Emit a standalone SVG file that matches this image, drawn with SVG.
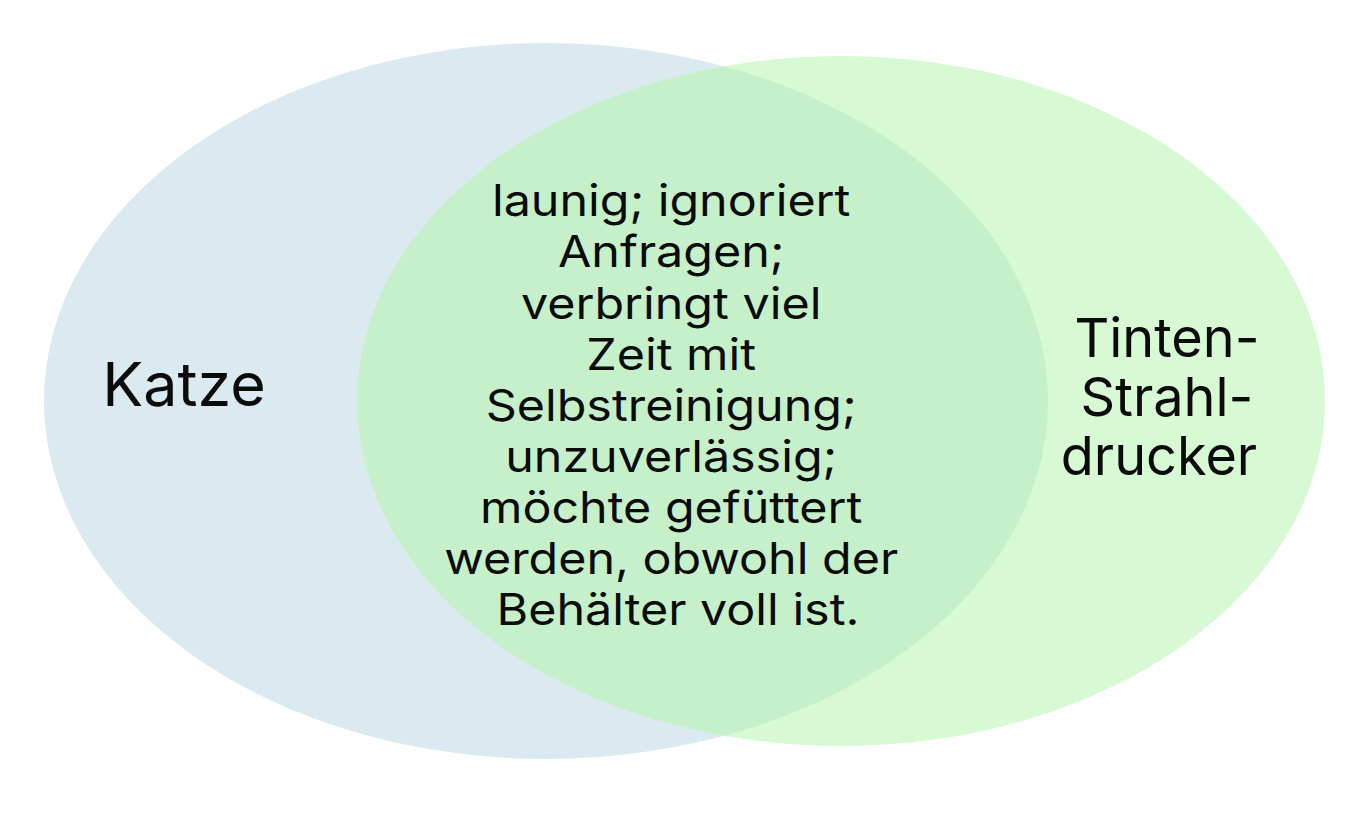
<svg xmlns="http://www.w3.org/2000/svg" width="1369" height="815" viewBox="0 0 1369 815">
<style>
.t{font-family:Inter,"Liberation Sans",sans-serif;fill:#0b0b0b;text-anchor:middle}
</style>
<defs>
<clipPath id="leftClip"><ellipse cx="546" cy="401" rx="502" ry="358"/></clipPath>
</defs>
<rect width="1369" height="815" fill="#ffffff"/>
<g id="katze">
<ellipse cx="546" cy="401" rx="502" ry="358" fill="#dbe9f1"/>
<text class="t" x="184" y="406" font-size="61">Katze</text>
</g>
<g id="drucker">
<ellipse cx="841" cy="401" rx="484" ry="345" fill="#d7f9d3"/>
<text class="t" x="1167" y="357" font-size="54">Tinten-</text>
<text class="t" x="1167" y="416" font-size="54">Strahl-</text>
<text class="t" x="1159" y="475" font-size="54">drucker</text>
</g>
<g id="overlap">
<ellipse cx="841" cy="401" rx="484" ry="345" fill="#c5f0ca" clip-path="url(#leftClip)"/>
<text class="t" font-size="44" transform="translate(678,0) scale(1.1,1) translate(-678,0)">
<tspan x="678" y="216">launig; ignoriert</tspan>
<tspan x="678" y="267">Anfragen;</tspan>
<tspan x="678" y="319">verbringt viel</tspan>
<tspan x="678" y="370">Zeit mit</tspan>
<tspan x="678" y="421">Selbstreinigung;</tspan>
<tspan x="678" y="472">unzuverlässig;</tspan>
<tspan x="678" y="523">möchte gefüttert</tspan>
<tspan x="678" y="574">werden, obwohl der</tspan>
<tspan x="678" y="625">Behälter voll ist.</tspan>
</text>
</g>
<g id="connectors"/>
</svg>
